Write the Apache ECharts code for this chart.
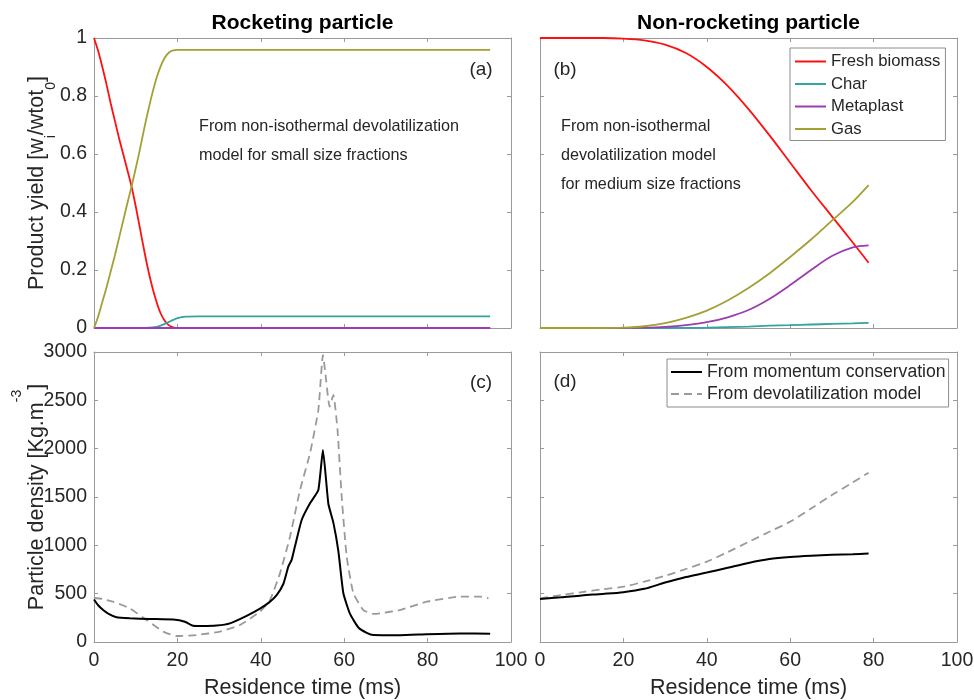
<!DOCTYPE html>
<html>
<head>
<meta charset="utf-8">
<script src="https://cdn.jsdelivr.net/npm/echarts@6/dist/echarts.min.js"></script>
<style>
html,body{margin:0;padding:0;background:#fff;}
#chart{width:974px;height:700px;}
</style>
</head>
<body>
<div id="chart"></div>
<script>
// ---------- DATA ----------
const xTicks = [0, 20, 40, 60, 80, 100];
const seriesNamesYield = ['Fresh biomass', 'Char', 'Metaplast', 'Gas'];
const seriesNamesDensity = ['From momentum conservation', 'From devolatilization model'];

// Panel (a) rocketing particle - product yields
const tA = [0,1,2,3,4,5,6,7,8,9,10,11,12,13,14,15,16,17,18,19,20,22,25,30,40,50,60,70,80,90,95];
const freshA = [1.0,0.955,0.9,0.84,0.775,0.715,0.655,0.6,0.545,0.488,0.42,0.345,0.27,0.2,0.14,0.09,0.05,0.024,0.009,0.002,0,0,0,0,0,0,0,0,0,0,0];
const charA = [0,0,0,0,0,0,0,0,0,0,0,0,0,0.001,0.002,0.004,0.008,0.014,0.021,0.028,0.034,0.039,0.04,0.04,0.04,0.04,0.04,0.04,0.04,0.04,0.04];
const metaA = [0,0,0,0,0,0,0,0,0,0,0,0,0,0,0,0,0,0,0,0,0,0,0,0,0,0,0,0,0,0,0];
const gasA = [0,0.04,0.09,0.14,0.195,0.25,0.31,0.37,0.43,0.488,0.55,0.615,0.685,0.75,0.81,0.862,0.903,0.933,0.95,0.957,0.959,0.959,0.959,0.959,0.959,0.959,0.959,0.959,0.959,0.959,0.959];

// Panel (b) non-rocketing particle - product yields
const tB = [0,5,10,15,20,25,30,35,40,45,50,55,60,65,70,75,78.8];
const freshB = [1,1,1,1,0.998,0.992,0.977,0.948,0.9,0.835,0.755,0.665,0.57,0.475,0.385,0.295,0.225];
const charB = [0,0,0,0,0,0,0,0.0005,0.001,0.003,0.005,0.008,0.01,0.012,0.014,0.016,0.018];
const metaB = [0,0,0,0,0,0.001,0.004,0.01,0.02,0.037,0.062,0.1,0.148,0.2,0.248,0.278,0.285];
const gasB = [0,0,0,0,0.001,0.006,0.017,0.035,0.06,0.095,0.138,0.188,0.245,0.305,0.37,0.435,0.493];

// Panel (c) rocketing particle - density
const tCm = [0,1,2.2,3.5,5.4,8.6,13.4,19,21.8,23.8,26,29.4,32.6,36.6,39.8,42,43.8,45.4,46.6,47.4,48.2,49.8,51.8,53.8,54.9,56.2,57.4,58.6,59.8,61.4,63.4,65.4,67,73.4,79.8,87.8,95];
const momC = [440,380,330,290,255,245,238,232,210,168,165,170,193,270,345,410,486,600,780,850,990,1262,1435,1572,1986,1430,1235,940,504,290,150,95,72,70,80,88,86];
const tCd = [0,2,4.6,8.6,12.6,16.6,19.8,24.6,30.2,35,39.8,42.2,44.6,47,49.4,51.8,53.8,54.9,55.4,56.5,57.4,58.4,59.4,60.6,62.2,64.6,67,68.6,73.4,79.8,87.8,92.6,94.6];
const devC = [455,445,417,348,228,107,62,72,107,176,314,434,710,1089,1572,1952,2400,2969,2814,2434,2555,2193,1503,883,504,331,290,297,331,417,469,469,452];

// Panel (d) non-rocketing particle - density
const tD = [0,5,10,15,20,25,30,35,40,45,50,55,60,65,70,75,78.8];
const momD = [445,462,482,497,515,550,615,672,718,768,818,858,880,893,902,908,915];
const devD = [452,485,516,545,572,625,685,755,831,930,1035,1140,1245,1380,1520,1650,1752];

// ---------- BUILD ----------
const pair = (xs, ys) => xs.map((x, i) => [x, ys[i]]);
const FONT = '"Liberation Sans", Arial, Helvetica, sans-serif';
const AX = '#9a9a9a';
const TXT = '#262626';
const colors = {fresh: '#ff1010', char: '#33a3a3', meta: '#9c3cb0', gas: '#a3a034'};

const grids = [
  {left: 94, top: 38, width: 417, height: 290},
  {left: 540, top: 38, width: 417, height: 290},
  {left: 94, top: 352, width: 417, height: 290},
  {left: 540, top: 352, width: 417, height: 290}
];

function xAx(g, pos, labels) {
  return {
    type: 'value', gridIndex: g, position: pos, min: 0, max: 100, interval: 20,
    axisLine: {show: true, onZero: false, lineStyle: {color: AX, width: 1}},
    axisTick: {show: true, inside: true, length: 4, lineStyle: {color: AX}},
    splitLine: {show: false},
    axisLabel: {show: labels, margin: 9, color: TXT, fontSize: 19.5, fontFamily: FONT,
                formatter: v => String(v)},
    name: labels ? 'Residence time (ms)' : '',
    nameLocation: 'middle', nameGap: 35, nameMoveOverlap: false,
    nameTextStyle: {color: TXT, fontSize: 21.5, fontFamily: FONT}
  };
}
function yAx(g, pos, labels, max, interval, name, rich, gap, fmt) {
  const lab = {show: labels, margin: 7, color: TXT, fontSize: 19.5, fontFamily: FONT};
  if (fmt) lab.formatter = fmt;
  return {
    type: 'value', gridIndex: g, position: pos, min: 0, max: max, interval: interval,
    axisLine: {show: true, onZero: false, lineStyle: {color: AX, width: 1}},
    axisTick: {show: true, inside: true, length: 4, lineStyle: {color: AX}},
    splitLine: {show: false},
    axisLabel: lab,
    name: name || '', nameLocation: 'middle', nameRotate: 90, nameGap: gap || 40,
    nameMoveOverlap: false,
    nameTextStyle: {color: TXT, fontSize: 21.5, fontFamily: FONT, rich: rich || {}}
  };
}

const richA = {
  n: {fontSize: 21.5, fontFamily: FONT, color: TXT, lineHeight: 24, verticalAlign: 'top'},
  s: {fontSize: 14, fontFamily: FONT, color: TXT, lineHeight: 32, verticalAlign: 'bottom'}
};
const richC = {
  n: {fontSize: 21.5, fontFamily: FONT, color: TXT, lineHeight: 24, verticalAlign: 'bottom'},
  p: {fontSize: 14, fontFamily: FONT, color: TXT, lineHeight: 38, verticalAlign: 'top'}
};
const intFmt = v => String(Math.round(v));

const xAxes = [], yAxes = [];
for (let g = 0; g < 4; g++) {
  xAxes.push(xAx(g, 'bottom', g >= 2));
  xAxes.push(xAx(g, 'top', false));
}
yAxes.push(yAx(0, 'left', true, 1, 0.2, '{n|Product yield [w}{s|i}{n|/wtot}{s|0}{n|]}', richA, 35.5));
yAxes.push(yAx(0, 'right', false, 1, 0.2));
yAxes.push(yAx(1, 'left', false, 1, 0.2));
yAxes.push(yAx(1, 'right', false, 1, 0.2));
yAxes.push(yAx(2, 'left', true, 3000, 500, '{n|Particle density [Kg.m}{p|-3}{n|]}', richC, 46, intFmt));
yAxes.push(yAx(2, 'right', false, 3000, 500));
yAxes.push(yAx(3, 'left', false, 3000, 500));
yAxes.push(yAx(3, 'right', false, 3000, 500));

function ln(name, g, xs, ys, color, opts) {
  opts = opts || {};
  return {
    type: 'line', name: name, xAxisIndex: 2 * g, yAxisIndex: 2 * g,
    data: pair(xs, ys), symbol: 'none', showSymbol: false,
    smooth: opts.smooth !== undefined ? opts.smooth : 0.3,
    lineStyle: {color: color, width: opts.width || 1.8, type: opts.type || 'solid'},
    itemStyle: {color: color},
    emphasis: {disabled: true}, animation: false
  };
}

const series = [
  ln('Fresh biomass', 0, tA, freshA, colors.fresh),
  ln('Char', 0, tA, charA, colors.char),
  ln('Metaplast', 0, tA, metaA, colors.meta),
  ln('Gas', 0, tA, gasA, colors.gas),
  ln('Fresh biomass', 1, tB, freshB, colors.fresh),
  ln('Char', 1, tB, charB, colors.char),
  ln('Metaplast', 1, tB, metaB, colors.meta),
  ln('Gas', 1, tB, gasB, colors.gas),
  ln('From devolatilization model', 2, tCd, devC, '#9a9a9a', {type: [8, 5], smooth: 0.15, width: 1.8}),
  ln('From momentum conservation', 2, tCm, momC, '#000000', {smooth: 0.15, width: 2}),
  ln('From devolatilization model', 3, tD, devD, '#9a9a9a', {type: [8, 5], width: 1.8}),
  ln('From momentum conservation', 3, tD, momD, '#000000', {width: 2})
];

const txt = (text, x, y, size, opts) => ({
  type: 'text', x: x, y: y, silent: true,
  style: {text: text, font: (opts && opts.bold ? 'bold ' : '') + size + 'px ' + FONT, fill: (opts && opts.fill) || TXT,
          textAlign: (opts && opts.align) || 'left', textVerticalAlign: 'middle'}
});

const option = {
  backgroundColor: '#fff',
  animation: false,
  grid: grids.map(g => Object.assign({containLabel: false, outerBoundsMode: 'none'}, g)),
  xAxis: xAxes,
  yAxis: yAxes,
  legend: [
    {
      data: seriesNamesYield, orient: 'vertical', left: 790, top: 48,
      itemWidth: 31, itemHeight: 14, itemGap: 3.5,
      padding: [4, 5, 2, 4], borderColor: '#8c8c8c', borderWidth: 1, backgroundColor: '#fff',
      itemStyle: {opacity: 0},
      textStyle: {fontSize: 16.7, fontFamily: FONT, color: TXT, lineHeight: 19},
      selectedMode: false
    },
    {
      data: seriesNamesDensity, orient: 'vertical', left: 667, top: 359,
      itemWidth: 31, itemHeight: 14, itemGap: 2,
      padding: [3, 3, 3, 3], borderColor: '#8c8c8c', borderWidth: 1, backgroundColor: '#fff',
      itemStyle: {opacity: 0},
      textStyle: {fontSize: 17.6, fontFamily: FONT, color: TXT, lineHeight: 20},
      selectedMode: false
    }
  ],
  graphic: [
    txt('Rocketing particle', 302.5, 23, 21, {bold: true, align: 'center', fill: '#000'}),
    txt('Non-rocketing particle', 748.5, 23, 21, {bold: true, align: 'center', fill: '#000'}),
    txt('(a)', 481, 70, 19, {align: 'center'}),
    txt('(b)', 565, 70, 19, {align: 'center'}),
    txt('(c)', 481, 383, 19, {align: 'center'}),
    txt('(d)', 565, 382, 19, {align: 'center'}),
    txt('From non-isothermal devolatilization', 199, 127, 16.2),
    txt('model for small size fractions', 199, 156, 16.2),
    txt('From non-isothermal', 561, 127, 16.2),
    txt('devolatilization model', 561, 156, 16.2),
    txt('for medium size fractions', 561, 185, 16.2)
  ],
  series: series
};

const chart = echarts.init(document.getElementById('chart'), null, {renderer: 'canvas'});
chart.setOption(option);
</script>
</body>
</html>
